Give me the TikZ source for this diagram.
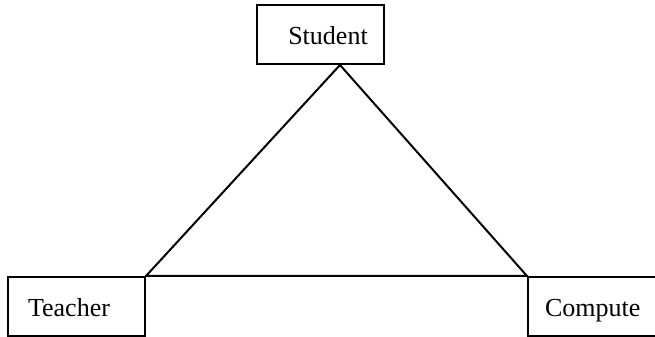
\documentclass[tikz,border=0pt]{standalone}
\usepackage{fontspec}
\setmainfont{Liberation Serif}
\usetikzlibrary{positioning,calc}

\begin{document}
\begin{tikzpicture}[x=0.4pt,y=-0.4pt,line width=0.8pt,
    entity/.style={draw,rectangle,inner sep=0pt,minimum height=23.6pt,
        text height=1em,text depth=0.22em,font=\fontsize{10.4}{12}\selectfont}]
    \useasboundingbox (0,0) rectangle (655,337);
    \clip (0,0) rectangle (655,337);

    \node[entity, minimum width=50.8pt] (S) at (320.5,34.5)  {\hspace*{6pt}Student};
    \node[entity, minimum width=54.8pt] (T) at (76.5,306.5)  {Teacher\hspace*{6pt}};
    \node[entity, minimum width=54.8pt] (C) at (596.5,306.5) {Compute\hspace*{3pt}};

    \coordinate (apex) at ([xshift=7.8pt]S.south);
    \draw (apex) -- (T.north east) -- (C.north west) -- (apex);
\end{tikzpicture}
\end{document}
